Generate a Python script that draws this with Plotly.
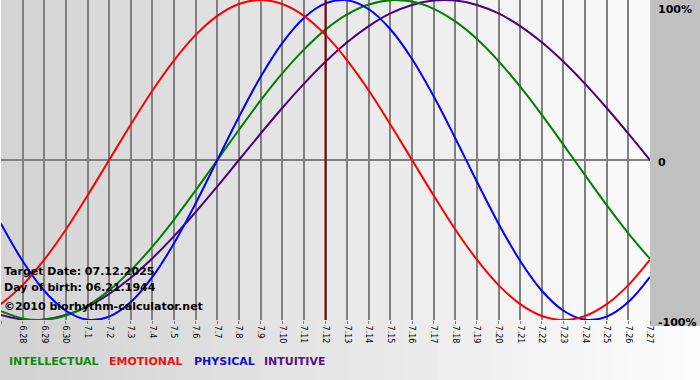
import plotly.graph_objects as go

# ---- data ----
days = ["6.27", "6.28", "6.29", "6.30", "7.1", "7.2", "7.3", "7.4", "7.5", "7.6",
        "7.7", "7.8", "7.9", "7.10", "7.11", "7.12", "7.13", "7.14", "7.15", "7.16",
        "7.17", "7.18", "7.19", "7.20", "7.21", "7.22", "7.23", "7.24", "7.25", "7.26", "7.27"]

physical = [-0.398, -0.631, -0.817, -0.942, -0.998, -0.979, -0.888, -0.731, -0.520, -0.270,
            0.000, 0.270, 0.520, 0.731, 0.888, 0.979, 0.998, 0.942, 0.817, 0.631,
            0.398, 0.136, -0.136, -0.398, -0.631, -0.817, -0.942, -0.998, -0.979, -0.888, -0.731]

emotional = [-0.901, -0.782, -0.623, -0.434, -0.222, 0.000, 0.222, 0.434, 0.623, 0.782,
             0.901, 0.975, 1.000, 0.975, 0.901, 0.782, 0.623, 0.434, 0.222, 0.000,
             -0.222, -0.434, -0.623, -0.782, -0.901, -0.975, -1.000, -0.975, -0.901, -0.782, -0.623]

intellectual = [-0.945, -0.990, -0.999, -0.972, -0.910, -0.815, -0.690, -0.541, -0.372, -0.189,
                0.000, 0.189, 0.372, 0.541, 0.690, 0.815, 0.910, 0.972, 0.999, 0.990,
                0.945, 0.866, 0.756, 0.618, 0.458, 0.282, 0.095, -0.095, -0.282, -0.458, -0.618]

intuitive = [-0.969, -0.997, -0.997, -0.969, -0.916, -0.837, -0.736, -0.614, -0.476, -0.325,
             -0.165, 0.000, 0.165, 0.325, 0.476, 0.614, 0.736, 0.837, 0.916, 0.969,
             0.997, 0.997, 0.969, 0.916, 0.837, 0.736, 0.614, 0.476, 0.325, 0.165, 0.000]

target_day = "7.12"
target_text = "Target Date: 07.12.2025"
birth_text = "Day of birth: 06.21.1944"
credit_text = "\u00a92010 biorhythm-calculator.net"

y_labels = ["100%", "0", "-100%"]
y_label_vals = [1, 0, -1]

series = [
    ("INTUITIVE", intuitive, "#4B0082"),
    ("INTELLECTUAL", intellectual, "#008000"),
    ("PHYSICAL", physical, "#0000FF"),
    ("EMOTIONAL", emotional, "#FF0000"),
]
legend_items = [("INTELLECTUAL", "#118811", 8), ("EMOTIONAL", "#EE1111", 108),
                ("PHYSICAL", "#1111CC", 193), ("INTUITIVE", "#551188", 263)]

# ---- layout geometry ----
W, H = 700, 380
ML, MR, MT, MB = 1, 50, 0, 60
PW, PH = W - ML - MR, H - MT - MB

xs = list(range(len(days)))
FONT = "DejaVu Sans"

fig = go.Figure()
for name, vals, col in series:
    fig.add_trace(go.Scatter(x=xs, y=vals, mode="lines", name=name,
                             line=dict(color=col, width=2, shape="spline", smoothing=1),
                             hoverinfo="skip", showlegend=False, cliponaxis=True))

shapes = []
# plot-area gradient (one strip per day column)
n = len(days) - 1
for i in range(n):
    t = i / (n - 1)
    g = int(round(0xD4 + (0xFB - 0xD4) * t))
    shapes.append(dict(type="rect", xref="x", yref="paper", x0=i, x1=i + 1, y0=0, y1=1,
                       fillcolor=f"rgb({g},{g},{g})", line=dict(width=0), layer="below"))
# bottom gradient band
nb = 40
x_left = -ML / PW
x_right = 1 + MR / PW
for i in range(nb):
    t = i / (nb - 1)
    g = int(round(0xD2 + (0xFD - 0xD2) * t))
    x0 = x_left + (x_right - x_left) * i / nb
    x1 = x_left + (x_right - x_left) * (i + 1) / nb + 0.002
    shapes.append(dict(type="rect", xref="paper", yref="paper", x0=x0, x1=x1,
                       y0=-MB / PH, y1=0, fillcolor=f"rgb({g},{g},{g})",
                       line=dict(width=0), layer="below"))
# right gray column
shapes.append(dict(type="rect", xref="paper", yref="paper", x0=1, x1=x_right,
                   y0=-6 / PH, y1=1, fillcolor="#C0C0C0", line=dict(width=0), layer="below"))
# target date line
ti = days.index(target_day)
shapes.append(dict(type="line", xref="x", yref="paper", x0=ti, x1=ti, y0=0, y1=1,
                   line=dict(color="#800000", width=2), layer="above"))

annotations = []
for txt, yp in [(target_text, 271), (birth_text, 287), (credit_text, 306)]:
    annotations.append(dict(text=txt, xref="paper", yref="paper", x=1 / PW, y=(PH - yp) / PH,
                            xanchor="left", yanchor="middle", showarrow=False,
                            font=dict(family=FONT, size=11, color="#000000", weight="bold")))
for lab, col, px in legend_items:
    annotations.append(dict(text=lab, xref="paper", yref="paper", x=(px - ML - 1) / PW,
                            y=(PH - 361) / PH, xanchor="left", yanchor="middle", showarrow=False,
                            font=dict(family=FONT, size=11, color=col, weight="bold")))
for lab, v in zip(y_labels, y_label_vals):
    annotations.append(dict(text=lab, xref="paper", yref="y", x=1, y=v, xshift=6,
                            xanchor="left", yanchor="top" if v == 1 else "middle",
                            yshift=-1 if v == 1 else -2, showarrow=False,
                            font=dict(family=FONT, size=11, color="#000000", weight="bold")))

fig.update_layout(
    width=W, height=H,
    margin=dict(l=ML, r=MR, t=MT, b=MB, autoexpand=False),
    paper_bgcolor="#FFFFFF", plot_bgcolor="rgba(0,0,0,0)",
    shapes=shapes, annotations=annotations, showlegend=False,
    xaxis=dict(range=[0, len(days) - 1], tickvals=xs, ticktext=days, tickangle=90,
               showgrid=True, gridcolor="#808080", gridwidth=2, zeroline=False,
               ticks="outside", ticklen=3, tickcolor="#808080", tickwidth=1,
               tickfont=dict(family=FONT, size=8, color="#000000"), automargin=False,
               fixedrange=True),
    yaxis=dict(range=[-1.0, 1.0], showgrid=False, zeroline=True, zerolinecolor="#808080",
               zerolinewidth=2, showticklabels=False, ticks="", automargin=False,
               fixedrange=True),
)

fig.write_html("out.html", config={"displayModeBar": False},
               post_script="document.body.style.margin='0px';document.body.style.overflow='hidden';")
